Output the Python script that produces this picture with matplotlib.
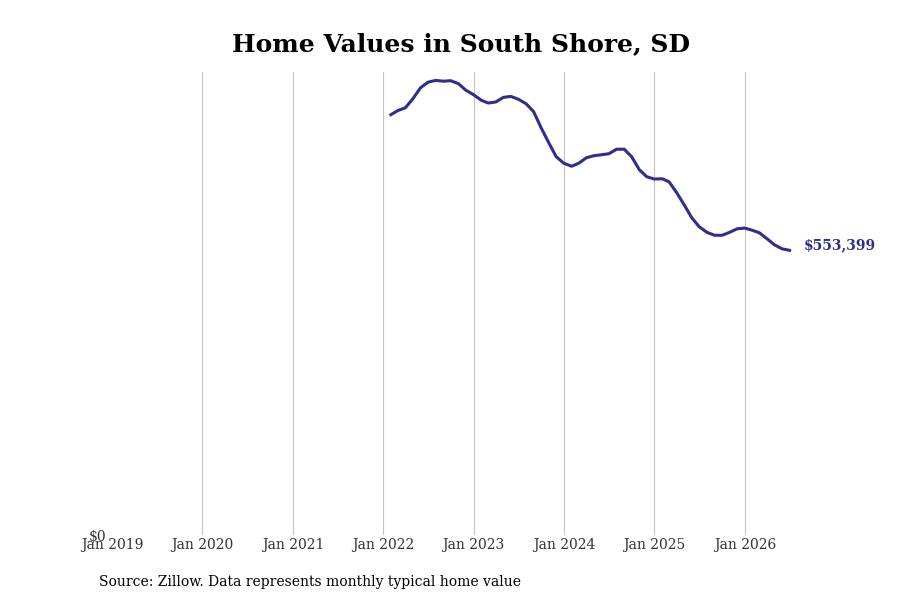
import matplotlib
matplotlib.use("Agg")
import matplotlib.pyplot as plt
import pandas as pd

plt.rcParams['font.family'] = ['DejaVu Serif']

dates = pd.date_range("2022-02-01", "2026-07-01", freq="MS")
values = [
    817000, 825000, 830600, 848100, 869500, 880200, 883700, 882100, 883100, 877300,
    864600, 855900, 845200, 839700, 841700, 850600, 852600, 847100, 838400, 822800,
    791700, 762500, 735300, 722600, 716800, 722600, 733300, 737200, 739200, 741100,
    749900, 749900, 735300, 710000, 696400, 691900, 692500, 686600, 665300, 641900,
    616600, 599100, 588400, 582600, 582600, 588400, 595200, 596600, 592300, 587500,
    575800, 564100, 556300, 553399,
]
tick_years = list(range(2019, 2027))
tick_labels = [f"Jan {y}" for y in tick_years]
title = "Home Values in South Shore, SD"
source = "Source: Zillow. Data represents monthly typical home value"
line_color = "#2e2e8f"

fig = plt.figure(figsize=(9, 6), dpi=100)
ax = fig.add_axes([0.1244, 0.1083, 0.776, 0.7717])

ax.plot(dates, values, color=line_color, linewidth=2.2)

ax.set_xlim(pd.Timestamp("2019-01-01"), pd.Timestamp("2026-09-23"))
ax.set_ylim(0, 900000)

ticks = [pd.Timestamp(f"{y}-01-01") for y in tick_years]
ax.set_xticks(ticks)
ax.set_xticklabels(tick_labels, fontsize=10, color="#333333")
ax.set_yticks([0])
ax.set_yticklabels(["$0"], fontsize=10, color="#333333")
ax.tick_params(axis="both", length=0, pad=2)
ax.tick_params(axis="y", pad=4)

for s in ax.spines.values():
    s.set_visible(False)

ax.grid(axis="x", color="#c4c4c4", linewidth=0.8)
ax.xaxis.get_gridlines()[0].set_visible(False)

ax.annotate(f"${values[-1]:,}", xy=(dates[-1], values[-1]), xytext=(10, 4),
            textcoords="offset points", color=line_color, fontsize=10,
            fontweight="bold", va="center", ha="left")

fig.text(0.512, 0.927, title, ha="center", va="center", fontsize=18, fontweight="bold")
fig.text(0.11, 0.03, source, ha="left", va="center", fontsize=10)

fig.savefig("out.png", dpi=100)
